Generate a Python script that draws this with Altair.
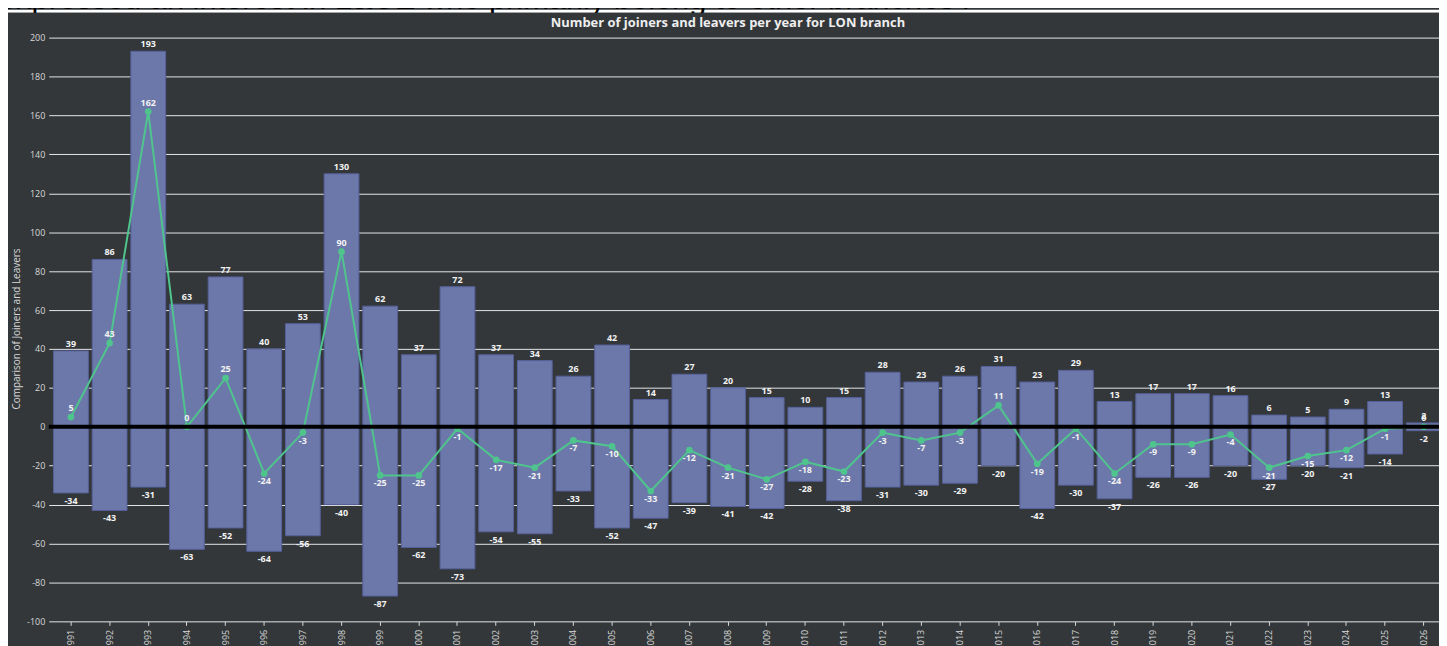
import altair as alt
import pandas as pd

FONT = "Open Sans"

years = ["1991", "1992", "1993", "1994", "1995", "1996", "1997", "1998", "1999", "2000",
         "2001", "2002", "2003", "2004", "2005", "2006", "2007", "2008", "2009", "2010",
         "2011", "2012", "2013", "2014", "2015", "2016", "2017", "2018", "2019", "2020",
         "2021", "2022", "2023", "2024", "2025", "2026"]
joiners = [39, 86, 193, 63, 77, 40, 53, 130, 62, 37,
           72, 37, 34, 26, 42, 14, 27, 20, 15, 10,
           15, 28, 23, 26, 31, 23, 29, 13, 17, 17,
           16, 6, 5, 9, 13, 2]
leavers = [-34, -43, -31, -63, -52, -64, -56, -40, -87, -62,
           -73, -54, -55, -33, -52, -47, -39, -41, -42, -28,
           -38, -31, -30, -29, -20, -42, -30, -37, -26, -26,
           -20, -27, -20, -21, -14, -2]
net = [5, 43, 162, 0, 25, -24, -3, 90, -25, -25,
       -1, -17, -21, -7, -10, -33, -12, -21, -27, -18,
       -23, -3, -7, -3, 11, -19, -1, -24, -9, -9,
       -4, -21, -15, -12, -1, 0]
y_ticks = [-100, -80, -60, -40, -20, 0, 20, 40, 60, 80, 100, 120, 140, 160, 180, 200]

chart_title = "Number of joiners and leavers per year for LON branch"
y_title = "Comparison of Joiners and Leavers"
page_text = "expressed an interest in L&CE who primarily belong to other branches\u2019."

df = pd.DataFrame({"year": years, "joiners": joiners, "leavers": leavers, "net": net})

W, H = 1398, 587
BG = "#33373a"
BAR = "#6c78aa"
GREEN = "#4fc48d"
LABEL = "#d8d8d8"

x_axis = alt.Axis(title=None, labelAngle=-90, labelFontSize=9, labelColor=LABEL, labelFont=FONT,
                  tickColor="#d8d8d8", tickSize=4, labelPadding=4, domain=False, grid=False)
x_scale = alt.Scale(range=[0, 1405], paddingInner=0.1, paddingOuter=0.124)


def X():
    return alt.X("year:N", sort=years, scale=x_scale, axis=x_axis)


y_axis = alt.Axis(values=y_ticks, title=y_title, grid=True, gridColor="#e6e6e6", gridWidth=1,
                  domain=False, ticks=False, labelPadding=4, labelFontSize=9, labelColor=LABEL,
                  labelFont=FONT, labelExpr="'' + datum.value",
                  titleFont=FONT, titleFontSize=10, titleColor=LABEL,
                  titleFontWeight="normal", titleX=-32, titleY=292.5, titleBaseline="middle",
                  titleAlign="center")
y_scale = alt.Scale(domain=[-100, 200], nice=False, zero=False)


def Y(field):
    return alt.Y(f"{field}:Q", scale=y_scale, axis=y_axis)


one = alt.Data(values=[{"k": 1}])

strip = alt.Chart(one).mark_rect(color="#ffffff").encode(
    x=alt.value(-41), x2=alt.value(W), y=alt.value(-28), y2=alt.value(-25)
)
header = alt.Chart(one).mark_text(
    text=page_text, align="left", baseline="alphabetic", fontSize=31,
    font="Liberation Sans", color="#000000"
).encode(x=alt.value(-50), y=alt.value(-28.5))
cover = alt.Chart(one).mark_rect(color=BG).encode(
    x=alt.value(-41), x2=alt.value(W), y=alt.value(-25), y2=alt.value(-15)
)

base = alt.Chart(df).transform_calculate(
    jl="'' + datum.joiners", ll="'' + datum.leavers", nl="'' + datum.net"
)

bars_j = base.mark_bar(color=BAR, stroke="#56619a", strokeWidth=1).encode(x=X(), y=Y("joiners"))
bars_l = base.mark_bar(color=BAR, stroke="#56619a", strokeWidth=1).encode(x=X(), y=Y("leavers"))

line = base.mark_line(color=GREEN, strokeWidth=2,
                      point=alt.OverlayMarkDef(filled=True, size=45, color=GREEN, opacity=1)).encode(
    x=X(), y=Y("net"))

zero_rule = alt.Chart(one).transform_calculate(z="0").mark_rule(
    color="#000000", strokeWidth=4).encode(y=Y("z"))

txt_kw = dict(fontSize=9, font=FONT, fontWeight="bold", color="#f2f2f2", baseline="alphabetic")
lab_j = base.mark_text(dy=-4, **txt_kw).encode(x=X(), y=Y("joiners"), text="jl:N")
lab_l = base.mark_text(dy=11, **txt_kw).encode(x=X(), y=Y("leavers"), text="ll:N")
lab_np = base.transform_filter("datum.net >= 0").mark_text(dy=-6, **txt_kw).encode(
    x=X(), y=Y("net"), text="nl:N")
lab_nn = base.transform_filter("datum.net < 0").mark_text(dy=11, **txt_kw).encode(
    x=X(), y=Y("net"), text="nl:N")

title = alt.Chart(one).mark_text(
    text=chart_title, align="center", baseline="alphabetic", fontSize=13, font=FONT,
    fontWeight="bold", color="#eeeeee"
).encode(x=alt.value(683), y=alt.value(-10.5))

chart = alt.layer(
    strip, header, cover, bars_j, bars_l, line, zero_rule, lab_j, lab_l, lab_np, lab_nn, title
).properties(
    width=W, height=H,
    autosize=alt.AutoSizeParams(type="none"),
    padding={"left": 41, "top": 28, "right": 0, "bottom": 23},
    background=BG,
).configure_view(stroke=None)

chart.save("out.html", embed_options={"renderer": "svg", "actions": False})
